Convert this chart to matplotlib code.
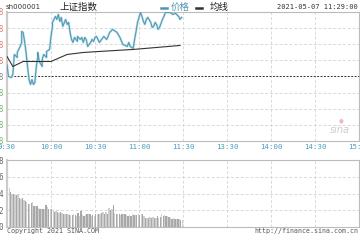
import matplotlib
matplotlib.use("Agg")
import matplotlib.pyplot as plt
import numpy as np

# ---------------- data ----------------
prev_close = 3441.28
step = 6.0
price_min = [0, 1, 3, 4, 5, 7, 7, 9, 10, 10, 11, 12, 13, 14, 15, 16, 17, 18, 19, 20, 21, 21,
             22, 24, 24, 25, 27, 27, 29, 30, 31, 31, 33, 34, 35, 36, 37, 38, 40, 41, 42, 43,
             44, 45, 46, 48, 48, 50, 51, 52, 53, 54, 55, 57, 58, 59, 60, 61, 63, 66, 68,
             70, 72, 75, 77, 79, 82, 83, 84, 86, 87, 88, 89, 91, 92, 93, 94, 95, 96, 98,
             99, 100, 101, 102, 103, 104, 106, 107, 108, 111, 113, 115, 117, 118, 119]
price_val = [3445.75, 3441.28, 3440.91, 3442.03, 3449.48, 3448.36, 3450.22, 3452.46, 3453.95,
             3458.05, 3457.68, 3454.32, 3450.22, 3445.01, 3440.16, 3438.30, 3440.16, 3438.30,
             3439.04, 3445.01, 3448.73, 3450.22, 3446.87, 3445.01, 3447.62, 3449.48, 3448.36,
             3450.60, 3451.34, 3456.19, 3459.92, 3461.41, 3463.64, 3462.52, 3464.39, 3461.78,
             3463.27, 3459.92, 3462.52, 3460.66, 3461.41, 3457.68, 3455.07, 3453.95, 3455.82,
             3454.32, 3456.19, 3455.07, 3455.82, 3453.95, 3455.82, 3455.07, 3452.46, 3453.95,
             3455.07, 3454.32, 3455.82, 3456.19, 3453.95, 3456.19, 3455.07, 3457.68, 3458.80,
             3457.68, 3455.82, 3453.21, 3452.46, 3453.95, 3452.46, 3451.72, 3455.07, 3458.05,
             3461.41, 3465.13, 3463.64, 3461.78, 3460.66, 3462.52, 3463.27, 3461.41, 3459.54,
             3459.92, 3461.41, 3460.66, 3458.80, 3459.54, 3462.52, 3463.64, 3465.13, 3465.13,
             3464.39, 3464.76, 3463.64, 3462.52, 3463.27]
avg_min = [0, 4, 11, 18, 30, 41, 52, 63, 86, 118]
avg_val = [3448.73, 3445.01, 3446.87, 3446.87, 3446.87, 3449.48, 3450.22, 3450.60, 3451.34, 3452.83]

volume = [4.8, 4.6, 4.2, 4.0, 3.9, 3.8, 3.8, 4.0, 3.5, 3.4, 3.5, 3.2, 3.1, 3.0, 2.8, 2.8, 2.9,
          3.0, 2.5, 2.5, 2.5, 2.3, 2.2, 2.1, 2.1, 2.2, 2.6, 2.4, 2.2, 2.2, 2.1, 2.0, 1.8, 1.9,
          1.8, 1.7, 1.8, 1.7, 1.6, 1.5, 1.5, 1.5, 1.4, 1.4, 1.4, 1.5, 1.4, 1.3, 1.7, 1.3, 1.9,
          1.4, 1.3, 1.4, 1.6, 1.6, 1.5, 1.3, 1.4, 1.3, 1.5, 1.6, 1.5, 1.6, 1.7, 1.8, 1.5, 1.8,
          1.5, 2.3, 2.0, 2.1, 2.6, 1.7, 1.5, 1.6, 1.5, 1.4, 1.5, 1.5, 1.6, 1.4, 1.3, 1.4, 1.3,
          1.5, 1.4, 1.4, 1.4, 1.5, 1.4, 1.5, 1.5, 1.3, 1.1, 1.1, 1.1, 1.2, 1.1, 1.2, 1.1, 1.1,
          1.3, 1.1, 1.2, 1.5, 1.3, 1.4, 1.3, 1.3, 1.2, 1.1, 1.0, 1.1, 1.0, 1.0, 0.9, 0.9, 0.8,
          0.8]
time_labels = ["9:30", "10:00", "10:30", "11:00", "11:30", "13:30", "14:00", "14:30", "15:00"]
vol_labels = ["0", "2", "4", "6", "8"]

# ---------------- figure ----------------
W, H = 360, 240
fig = plt.figure(figsize=(W / 100, H / 100), dpi=100)
fig.patch.set_facecolor("white")

def fx(x):
    return x / W

def fy(y):
    return 1 - y / H

ax = fig.add_axes([fx(7), fy(141), fx(352), 129 / H])
axv = fig.add_axes([fx(7), fy(227), fx(352), 67 / H])

grid_kw = dict(color="#d9d9d9", lw=0.7, ls=(0, (3, 2)))
for a in (ax, axv):
    a.set_xlim(0, 240)
    for s in a.spines.values():
        s.set_color("#bbbbbb")
        s.set_linewidth(0.8)
    a.spines["left"].set_linewidth(1.6)
    a.spines["left"].set_color("#cccccc")
    for xv in range(30, 240, 30):
        a.axvline(xv, **grid_kw, zorder=0)

# price panel
lo, hi = prev_close - 4 * step, prev_close + 4 * step
ax.set_ylim(lo, hi)
yt = [prev_close + k * step for k in range(-4, 5)]
ax.set_yticks(yt)
ax.set_yticklabels(["%.2f" % v for v in yt], fontsize=5.5, family="DejaVu Sans Mono")
for lab, v in zip(ax.get_yticklabels(), yt):
    if v > prev_close + 0.01:
        lab.set_color("#e07b7b")
    elif v < prev_close - 0.01:
        lab.set_color("#7fb07f")
    else:
        lab.set_color("#888888")
ax.tick_params(axis="y", length=0, pad=2.6)
for v in yt[1:-1]:
    if abs(v - prev_close) < 0.01:
        ax.axhline(v, color="#333333", lw=0.7, ls=(0, (2, 1.5)), zorder=1)
    else:
        ax.axhline(v, **grid_kw, zorder=0)

ax.set_xticks(range(0, 241, 30))
ax.set_xticklabels(time_labels, fontsize=5.3, family="DejaVu Sans Mono", color="#4a9cc0")
ax.tick_params(axis="x", length=0, pad=2.5)

ax.plot(price_min, price_val, color="#b4dce8", lw=1.6, zorder=2, solid_joinstyle="round")
ax.plot(price_min, price_val, color="#4f95b2", lw=0.7, zorder=3)
ax.plot(avg_min, avg_val, color="#333333", lw=0.8, zorder=4)

# volume panel
axv.set_ylim(0, 8)
axv.set_yticks([0, 2, 4, 6, 8])
axv.set_yticklabels(vol_labels, fontsize=5.5, family="DejaVu Sans Mono", color="#666666")
axv.tick_params(axis="y", length=0, pad=2.6)
axv.set_xticks([])
for v in (2, 4, 6):
    axv.axhline(v, **grid_kw, zorder=0)
vcolors = ["#a8a8a8" if i % 2 == 0 else "#cfcfcf" for i in range(len(volume))]
axv.bar(np.arange(len(volume)) + 0.5, volume, width=0.9, color=vcolors, linewidth=0, zorder=2)

# header texts
fig.text(fx(6), fy(7), "sh000001", fontsize=5.0, color="#333333", va="center", ha="left",
         family="DejaVu Sans")
fig.text(fx(60), fy(7), "上证指数", fontsize=6.8, color="#222222", va="center", ha="left",
         family=["Noto Sans CJK SC", "DejaVu Sans"])
fig.lines.append(plt.Line2D([fx(161), fx(167)], [fy(8), fy(8)], transform=fig.transFigure,
                            color="#4f95b2", lw=1.8))
fig.text(fx(171), fy(7), "价格", fontsize=6.8, color="#4f95b2", va="center", ha="left",
         family=["Noto Sans CJK SC", "DejaVu Sans"])
fig.lines.append(plt.Line2D([fx(196), fx(202)], [fy(8), fy(8)], transform=fig.transFigure,
                            color="#333333", lw=1.8))
fig.text(fx(210), fy(7), "均线", fontsize=6.8, color="#222222", va="center", ha="left",
         family=["Noto Sans CJK SC", "DejaVu Sans"])
fig.text(fx(358), fy(7), "2021-05-07 11:29:00", fontsize=5.0, color="#333333", va="center",
         ha="right", family="DejaVu Sans Mono")

# footer texts
fig.text(fx(7), fy(231), "Copyright 2021 SINA.COM", fontsize=4.8, color="#555555",
         va="center", ha="left", family="DejaVu Sans Mono")
fig.text(fx(358), fy(231), "http://finance.sina.com.cn", fontsize=4.8, color="#555555",
         va="center", ha="right", family="DejaVu Sans Mono")

# watermark
fig.text(fx(340), fy(130), "sina", fontsize=7, color="#cccccc", style="italic",
         va="center", ha="center", family="DejaVu Sans")
fig.text(fx(341), fy(121), "●", fontsize=4, color="#f0b8b8", va="center", ha="center")

fig.savefig("out.png", dpi=100, facecolor="white")
